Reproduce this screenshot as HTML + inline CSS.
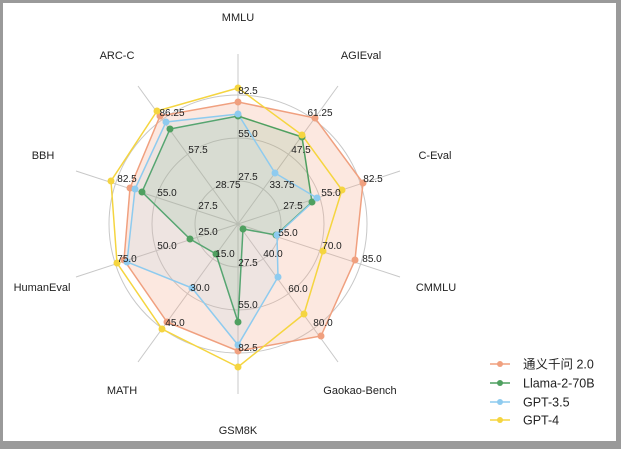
<!DOCTYPE html>
<html><head><meta charset="utf-8"><style>
html,body{margin:0;padding:0;background:#fff;}
.wrap{position:absolute;left:0;top:0;width:621px;height:449px;background:#9a9a9a;}
.panel{position:absolute;left:3px;top:3px;width:613px;height:438px;background:#fff;}
svg{position:absolute;left:0;top:0;}
text{font-family:"Liberation Sans","DejaVu Sans","Noto Sans CJK SC",sans-serif;fill:#222;}
.t{font-size:10px;fill:#333;}
.l{font-size:11px;}
</style></head><body>
<div class="wrap"><div class="panel"></div>
<svg width="621" height="449" viewBox="0 0 621 449">
<g stroke="#c8c8c8" stroke-width="1" fill="none">
<circle cx="238" cy="224" r="43"/><circle cx="238" cy="224" r="86"/><circle cx="238" cy="224" r="129"/>
<line x1="238" y1="224" x2="238" y2="54"/>
<line x1="238" y1="224" x2="338" y2="86"/>
<line x1="238" y1="224" x2="400" y2="171"/>
<line x1="238" y1="224" x2="400" y2="277"/>
<line x1="238" y1="224" x2="338" y2="362"/>
<line x1="238" y1="224" x2="238" y2="394"/>
<line x1="238" y1="224" x2="138" y2="362"/>
<line x1="238" y1="224" x2="76" y2="277"/>
<line x1="238" y1="224" x2="76" y2="171"/>
<line x1="238" y1="224" x2="138" y2="86"/>
</g>
<polygon points="238,102 315,118 363,183 355,260 321,336 238,351 167,322 124,260 130,188 160,116" fill="#f4a582" fill-opacity="0.25" stroke="#f0a07f" stroke-width="1.5"/>
<polygon points="238,116 302,137 312,202 276,235 243,229 238,322 216,254 190,239 142,192 170,129" fill="#5aaa6a" fill-opacity="0.15" stroke="#4fa060" stroke-width="1.5"/>
<polygon points="238,114 275,173 317,198 277,235 278,277 238,345 192,288 127,262 135,189 166,122" fill="#8ecbef" fill-opacity="0.12" stroke="#8ecbef" stroke-width="1.5"/>
<polygon points="238,88 302,135 342,190 323,251 304,314 238,367 162,329 117,263 111,181 157,111" fill="none" stroke="#f5d540" stroke-width="1.5"/>
<g fill="#f0a07f"><circle cx="238" cy="102" r="3.5"/><circle cx="315" cy="118" r="3.5"/><circle cx="363" cy="183" r="3.5"/><circle cx="355" cy="260" r="3.5"/><circle cx="321" cy="336" r="3.5"/><circle cx="238" cy="351" r="3.5"/><circle cx="167" cy="322" r="3.5"/><circle cx="124" cy="260" r="3.5"/><circle cx="130" cy="188" r="3.5"/><circle cx="160" cy="116" r="3.5"/></g>
<g fill="#4fa060"><circle cx="238" cy="116" r="3.5"/><circle cx="302" cy="137" r="3.5"/><circle cx="312" cy="202" r="3.5"/><circle cx="276" cy="235" r="3.5"/><circle cx="243" cy="229" r="3.5"/><circle cx="238" cy="322" r="3.5"/><circle cx="216" cy="254" r="3.5"/><circle cx="190" cy="239" r="3.5"/><circle cx="142" cy="192" r="3.5"/><circle cx="170" cy="129" r="3.5"/></g>
<g fill="#8ecbef"><circle cx="238" cy="114" r="3.5"/><circle cx="275" cy="173" r="3.5"/><circle cx="317" cy="198" r="3.5"/><circle cx="277" cy="235" r="3.5"/><circle cx="278" cy="277" r="3.5"/><circle cx="238" cy="345" r="3.5"/><circle cx="192" cy="288" r="3.5"/><circle cx="127" cy="262" r="3.5"/><circle cx="135" cy="189" r="3.5"/><circle cx="166" cy="122" r="3.5"/></g>
<g fill="#f5d540"><circle cx="238" cy="88" r="3.5"/><circle cx="302" cy="135" r="3.5"/><circle cx="342" cy="190" r="3.5"/><circle cx="323" cy="251" r="3.5"/><circle cx="304" cy="314" r="3.5"/><circle cx="238" cy="367" r="3.5"/><circle cx="162" cy="329" r="3.5"/><circle cx="117" cy="263" r="3.5"/><circle cx="111" cy="181" r="3.5"/><circle cx="157" cy="111" r="3.5"/></g>
<g class="t" text-anchor="middle">
<text x="248" y="94">82.5</text><text x="248" y="137">55.0</text><text x="248" y="180">27.5</text>
<text x="320" y="116">61.25</text><text x="301" y="153">47.5</text><text x="282" y="188">33.75</text>
<text x="373" y="182">82.5</text><text x="331" y="196">55.0</text><text x="293" y="209">27.5</text>
<text x="372" y="262">85.0</text><text x="332" y="249">70.0</text><text x="288" y="236">55.0</text>
<text x="273" y="257">40.0</text><text x="298" y="292">60.0</text><text x="323" y="326">80.0</text>
<text x="248" y="266">27.5</text><text x="248" y="308">55.0</text><text x="248" y="351">82.5</text>
<text x="225" y="257">15.0</text><text x="200" y="291">30.0</text><text x="175" y="326">45.0</text>
<text x="208" y="235">25.0</text><text x="167" y="249">50.0</text><text x="127" y="262">75.0</text>
<text x="208" y="209">27.5</text><text x="167" y="196">55.0</text><text x="127" y="182">82.5</text>
<text x="228" y="188">28.75</text><text x="198" y="153">57.5</text><text x="172" y="116">86.25</text>
</g>
<g class="l" text-anchor="middle">
<text x="238" y="21">MMLU</text><text x="361" y="59">AGIEval</text><text x="435" y="159">C-Eval</text>
<text x="436" y="291">CMMLU</text><text x="360" y="394">Gaokao-Bench</text><text x="238" y="434">GSM8K</text>
<text x="122" y="394">MATH</text><text x="42" y="291">HumanEval</text><text x="43" y="159">BBH</text><text x="117" y="59">ARC-C</text>
</g>
<g stroke-width="1.5">
<line x1="490" y1="364" x2="510" y2="364" stroke="#f0a07f"/><circle cx="500" cy="364" r="3" fill="#f0a07f"/>
<line x1="490" y1="383" x2="510" y2="383" stroke="#4fa060"/><circle cx="500" cy="383" r="3" fill="#4fa060"/>
<line x1="490" y1="402" x2="510" y2="402" stroke="#8ecbef"/><circle cx="500" cy="402" r="3" fill="#8ecbef"/>
<line x1="490" y1="420" x2="510" y2="420" stroke="#f5d540"/><circle cx="500" cy="420" r="3" fill="#f5d540"/>
</g>
<g style="font-size:12.5px">
<text x="523" y="368.5">通义千问 2.0</text><text x="523" y="387.5">Llama-2-70B</text>
<text x="523" y="406.5">GPT-3.5</text><text x="523" y="424.5">GPT-4</text>
</g>
</svg></div>
</body></html>
